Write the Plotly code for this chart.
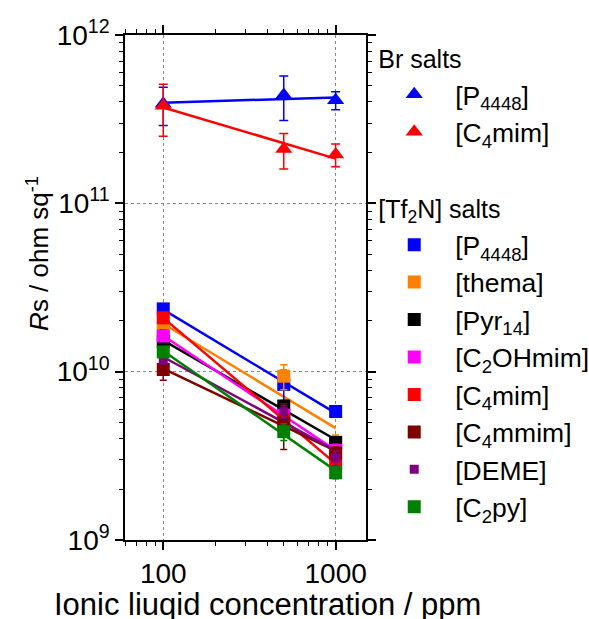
import numpy as np
import plotly.graph_objects as go

# Ionic liquid concentration (ppm)
conc = [100, 500, 1000]

# Br salts: surface resistivity (ohm/sq) and error
br_p4448 = [3.9e11, 4.4e11, 4.1e11]
br_p4448_err = [1.0e11, 1.3e11, 0.5e11]
br_c4mim = [3.8e11, 2.1e11, 1.95e11]
br_c4mim_err = [1.3e11, 0.5e11, 0.3e11]

# [Tf2N] salts: surface resistivity (ohm/sq) and error
tf_p4448 = [2.36e10, 8.4e9, 5.8e9]
tf_p4448_err = [1.0e9, 1.8e9, 0.3e9]
tf_thema = [1.77e10, 9.4e9, 3.8e9]
tf_thema_err = [1.8e9, 1.6e9, 0.4e9]
tf_pyr14 = [1.51e10, 6.25e9, 3.8e9]
tf_pyr14_err = [2.5e9, 0.5e9, 0.3e9]
tf_c2ohmim = [1.63e10, 5.5e9, 3.4e9]
tf_c2ohmim_err = [1.0e9, 0.5e9, 0.3e9]
tf_c4mim = [2.09e10, 5.16e9, 2.85e9]
tf_c4mim_err = [0.8e9, 0.6e9, 0.2e9]
tf_c4mmim = [1.03e10, 4.95e9, 3.28e9]
tf_c4mmim_err = [1.4e9, 1.5e9, 0.3e9]
tf_deme = [1.17e10, 5.78e9, 3.07e9]
tf_deme_err = [0.5e9, 0.5e9, 0.3e9]
tf_c2py = [1.31e10, 4.4e9, 2.51e9]
tf_c2py_err = [0.8e9, 0.5e9, 0.2e9]

# Axis tick positions and labels
x_tickvals = [100, 1000]
x_ticktext = ["100", "1000"]
y_tickvals = [1e9, 1e10, 1e11, 1e12]
y_ticktext = ["10<sup>9</sup>", "10<sup>10</sup>", "10<sup>11</sup>", "10<sup>12</sup>"]

FONT = "Liberation Sans, Arial, sans-serif"

br_series = [
    ("[P<sub>4448</sub>]", "#0000FF", br_p4448, br_p4448_err),
    ("[C<sub>4</sub>mim]", "#FF0000", br_c4mim, br_c4mim_err),
]
tf_series = [
    ("[P<sub>4448</sub>]", "#0000FF", tf_p4448, tf_p4448_err, 13),
    ("[thema]", "#FF8000", tf_thema, tf_thema_err, 13),
    ("[Pyr<sub>14</sub>]", "#000000", tf_pyr14, tf_pyr14_err, 13),
    ("[C<sub>2</sub>OHmim]", "#FF00FF", tf_c2ohmim, tf_c2ohmim_err, 13),
    ("[C<sub>4</sub>mim]", "#FF0000", tf_c4mim, tf_c4mim_err, 13),
    ("[C<sub>4</sub>mmim]", "#800000", tf_c4mmim, tf_c4mmim_err, 13),
    ("[DEME]", "#800080", tf_deme, tf_deme_err, 9),
    ("[C<sub>2</sub>py]", "#008000", tf_c2py, tf_c2py_err, 13),
]


def power_fit(x, y):
    """Least-squares straight line in log-log space, evaluated at the end points."""
    lx, ly = np.log10(x), np.log10(y)
    slope, icpt = np.polyfit(lx, ly, 1)
    xe = np.array([min(x), max(x)], dtype=float)
    return xe, 10 ** (icpt + slope * np.log10(xe))


def log_minor(lo_exp, hi_exp):
    """Minor tick positions 2..9 x 10^n for each decade."""
    return [m * 10.0 ** e for e in range(lo_exp, hi_exp) for m in range(2, 10)]


fig = go.Figure()

# fitted lines underneath the markers
for name, color, ys, _ in br_series:
    xf, yf = power_fit(conc, ys)
    fig.add_trace(go.Scatter(x=xf, y=yf, mode="lines", showlegend=False,
                             line=dict(color=color, width=2.5), hoverinfo="skip"))
for name, color, ys, _, _ in tf_series:
    xf, yf = power_fit(conc, ys)
    fig.add_trace(go.Scatter(x=xf, y=yf, mode="lines", showlegend=False,
                             line=dict(color=color, width=2.5), hoverinfo="skip"))

for name, color, ys, err in br_series:
    fig.add_trace(go.Scatter(
        x=conc, y=ys, mode="markers", name=name,
        legendgroup="br", legendgrouptitle=dict(text="Br salts"),
        marker=dict(symbol="triangle-up", size=15, color=color),
        error_y=dict(type="data", array=err, color=color, thickness=1.5, width=4.5),
    ))
for name, color, ys, err, ms in tf_series:
    fig.add_trace(go.Scatter(
        x=conc, y=ys, mode="markers", name=name,
        legendgroup="tf", legendgrouptitle=dict(text="[Tf<sub>2</sub>N] salts"),
        marker=dict(symbol="square", size=ms, color=color),
        error_y=dict(type="data", array=err, color=color, thickness=1.5, width=3.5),
    ))

axis_common = dict(
    type="log", tickmode="array", showline=True, linecolor="black", linewidth=1.5,
    mirror="allticks", ticks="outside", ticklen=8, tickwidth=1.5, tickcolor="black",
    showgrid=True, gridcolor="#888888", griddash="dot", gridwidth=1,
    zeroline=False, automargin=False,
    tickfont=dict(family=FONT, size=28, color="black"),
)
minor_common = dict(tickmode="array", ticks="outside", ticklen=4.5, tickwidth=1.2,
                    tickcolor="black", showgrid=False)

fig.update_xaxes(**axis_common, range=[np.log10(60), np.log10(1500)],
                 tickvals=x_tickvals, ticktext=x_ticktext,
                 minor=dict(**minor_common, tickvals=log_minor(1, 4)))
fig.update_yaxes(**axis_common, range=[9, 12],
                 tickvals=y_tickvals, ticktext=y_ticktext,
                 minor=dict(**minor_common, tickvals=log_minor(9, 12)))

fig.add_annotation(
    text="<i>R</i>s / ohm sq<sup>-1</sup>", textangle=-90,
    xref="paper", yref="paper", x=-0.36, y=0.567,
    xanchor="center", yanchor="middle", showarrow=False,
    font=dict(family=FONT, size=26, color="black"),
)
fig.add_annotation(
    text="Ionic liuqid concentration / ppm",
    xref="paper", yref="paper", x=0.591, y=-0.128,
    xanchor="center", yanchor="middle", showarrow=False,
    font=dict(family=FONT, size=31, color="black"),
)

fig.update_layout(
    width=589, height=619,
    margin=dict(l=125, r=223, t=35, b=79, autoexpand=False),
    paper_bgcolor="white", plot_bgcolor="white",
    font=dict(family=FONT, color="black"),
    legend=dict(
        x=1.03, y=1.0, xanchor="left", yanchor="top",
        font=dict(family=FONT, size=26.5, color="black"),
        grouptitlefont=dict(family=FONT, size=25, color="black"),
        tracegroupgap=40, itemwidth=72, itemsizing="trace",
        bgcolor="rgba(0,0,0,0)",
    ),
)

fig.write_html("out.html")
